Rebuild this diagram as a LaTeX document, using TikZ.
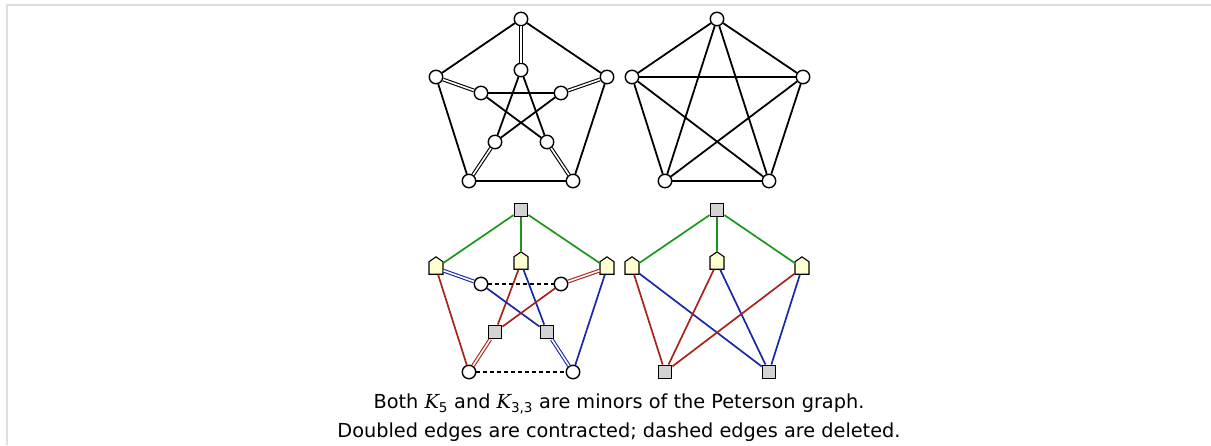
\documentclass[tikz,border=0pt]{standalone}
\usepackage{fontspec}
\setmainfont{DejaVu Sans}
\newfontfamily\dvserif{DejaVu Serif}
\usetikzlibrary{shapes.symbols}
\definecolor{eg}{HTML}{1A961A}
\definecolor{er}{HTML}{A8231A}
\definecolor{eb}{HTML}{1A28A8}
\definecolor{sqfill}{HTML}{D3D3D3}
\definecolor{hsfill}{HTML}{FFFFD2}
\definecolor{framec}{HTML}{DEDEDE}
\tikzset{
  vc/.style={circle, draw, line width=1.4pt, fill=white, minimum size=13.5pt, inner sep=0pt},
  vs/.style={rectangle, draw, line width=1.3pt, fill=sqfill, minimum size=13.5pt, inner sep=0pt},
  vh/.style={shape=signal, signal to=north, signal pointer angle=110, draw, line width=1.1pt, fill=hsfill, minimum width=14pt, minimum height=12.5pt, inner sep=0pt},
  ed/.style={line width=1.8pt},
  ce/.style={line width=1.7pt},
  dbl/.style={line width=1.1pt, double=white, double distance=1.6pt},
  dsh/.style={line width=1.6pt, dash pattern=on 4pt off 3pt},
  captext/.style={font=\fontsize{19.3}{22}\selectfont, inner sep=0pt}
}
\begin{document}
\begin{tikzpicture}[x=1pt,y=-1pt]
\useasboundingbox (0,0) rectangle (1211,445);
\draw[framec, line width=2.5pt] (7,445) -- (7,5) -- (1211,5);

% ---- Peterson graph (top left)
\node[vc] (o1) at (521,19) {};
\node[vc] (o2) at (436,77) {};
\node[vc] (o3) at (607,77) {};
\node[vc] (o4) at (469,181) {};
\node[vc] (o5) at (573,181) {};
\node[vc] (i1) at (521,70) {};
\node[vc] (i2) at (481,93) {};
\node[vc] (i3) at (561,93) {};
\node[vc] (i4) at (495,142) {};
\node[vc] (i5) at (547,142) {};
\draw[ed] (o1) -- (o2); \draw[ed] (o1) -- (o3);
\draw[ed] (o2) -- (o4); \draw[ed] (o3) -- (o5); \draw[ed] (o4) -- (o5);
\draw[ed] (i1) -- (i4); \draw[ed] (i1) -- (i5);
\draw[ed] (i2) -- (i3); \draw[ed] (i2) -- (i5); \draw[ed] (i3) -- (i4);
\draw[dbl] (o1) -- (i1); \draw[dbl] (o2) -- (i2); \draw[dbl] (o3) -- (i3);
\draw[dbl] (o4) -- (i4); \draw[dbl] (o5) -- (i5);

% ---- K5 (top right)
\node[vc] (k1) at (717,19) {};
\node[vc] (k2) at (632,77) {};
\node[vc] (k3) at (803,77) {};
\node[vc] (k4) at (665,181) {};
\node[vc] (k5) at (769,181) {};
\draw[ed] (k1) -- (k2); \draw[ed] (k1) -- (k3); \draw[ed] (k1) -- (k4); \draw[ed] (k1) -- (k5);
\draw[ed] (k2) -- (k3); \draw[ed] (k2) -- (k4); \draw[ed] (k2) -- (k5);
\draw[ed] (k3) -- (k4); \draw[ed] (k3) -- (k5); \draw[ed] (k4) -- (k5);

% ---- Peterson with minor (bottom left)
\node[vs] (pt) at (521,210) {};
\node[vh] (pl) at (436,268) {};
\node[vh] (pm) at (521,263) {};
\node[vh] (pr) at (607,268) {};
\node[vc] (pc2) at (481,284) {};
\node[vc] (pc3) at (561,284) {};
\node[vs] (ps4) at (495,332) {};
\node[vs] (ps5) at (547,332) {};
\node[vc] (pb4) at (469,372) {};
\node[vc] (pb5) at (573,372) {};
\draw[ce, eg] (pt) -- (pl); \draw[ce, eg] (pt) -- (pm); \draw[ce, eg] (pt) -- (pr);
\draw[ce, er] (pl) -- (pb4); \draw[ce, eb] (pr) -- (pb5);
\draw[ce, er] (pm) -- (ps4); \draw[ce, eb] (pm) -- (ps5);
\draw[ce, eb] (pc2) -- (ps5); \draw[ce, er] (pc3) -- (ps4);
\draw[dbl, eb] (pl) -- (pc2); \draw[dbl, er] (pr) -- (pc3);
\draw[dbl, er] (ps4) -- (pb4); \draw[dbl, eb] (ps5) -- (pb5);
\draw[dsh] (pc2) -- (pc3); \draw[dsh] (pb4) -- (pb5);

% ---- K3,3 (bottom right)
\node[vs] (qt) at (717,210) {};
\node[vh] (ql) at (632,268) {};
\node[vh] (qm) at (717,263) {};
\node[vh] (qr) at (802,268) {};
\node[vs] (q4) at (665,372) {};
\node[vs] (q5) at (769,372) {};
\draw[ce, eg] (qt) -- (ql); \draw[ce, eg] (qt) -- (qm); \draw[ce, eg] (qt) -- (qr);
\draw[ce, er] (ql) -- (q4); \draw[ce, eb] (ql) -- (q5);
\draw[ce, er] (qm) -- (q4); \draw[ce, eb] (qm) -- (q5);
\draw[ce, er] (qr) -- (q4); \draw[ce, eb] (qr) -- (q5);

% ---- caption
\node[captext] (c1) at (619,404) {Both {\dvserif\itshape K}\textsubscript{5} and {\dvserif\itshape K}\textsubscript{3,3} are minors of the Peterson graph.};
\node[captext] (c2) at (619,432) {Doubled edges are contracted; dashed edges are deleted.};
\end{tikzpicture}
\end{document}
